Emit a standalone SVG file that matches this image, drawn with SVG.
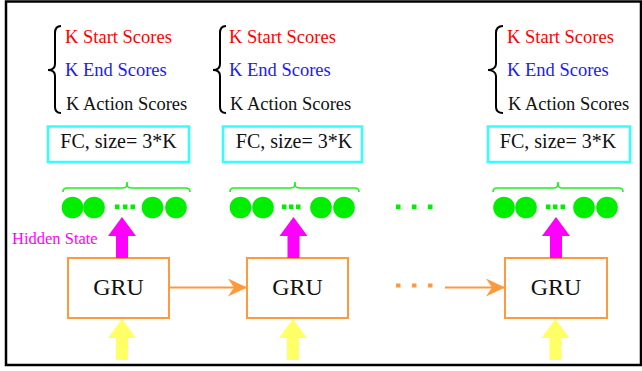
<svg xmlns="http://www.w3.org/2000/svg" width="642" height="371" viewBox="0 0 642 371" font-family="'Liberation Serif', 'Times New Roman', Times, serif">
<style>
text{font-family:'Liberation Serif','Times New Roman',Times,serif;}
.sc{font-size:18.5px;}
.red{fill:#FF0000;}
.blue{fill:#1A1AFF;}
.blk{fill:#111111;}
.fc{fill:#FFFFFF;stroke:#33FFFF;stroke-width:2.5;}
.fct{font-size:20px;fill:#111111;}
.gru{fill:#FFFFFF;stroke:#FF9A3C;stroke-width:2;}
.grut{font-size:24px;fill:#111111;}
.brace{fill:none;stroke:#000000;stroke-width:2;}
.gbrace{fill:none;stroke:#22EE22;stroke-width:1.6;}
.dot{fill:#00EE00;}
.conn{stroke:#FF9A3C;stroke-width:2;fill:none;}
.odot{fill:#FF9A3C;}
</style>
<defs>
<polygon id="uparrow" points="0,0 14,19 6,19 6,41 -6,41 -6,19 -14,19"/>
<marker id="ah" markerUnits="userSpaceOnUse" markerWidth="20" markerHeight="20" refX="19" refY="9" orient="auto">
<path d="M0,0 L19,9 L0,18 L6,9 Z" fill="#FF9A3C"/>
</marker>
</defs>
<rect x="6" y="1.5" width="635" height="363.5" fill="#FFFFFF" stroke="#000000" stroke-width="2.5"/>

<g id="scores1">
<path class="brace" d="M61,26 C57,26 55,28 55,33 L55,64 C55,68 52,70 48,70 C52,70 55,72 55,76 L55,107 C55,111 57,113 61,113"/>
<text class="sc red" x="65" y="43">K Start Scores</text>
<text class="sc blue" x="65" y="76">K End Scores</text>
<text class="sc blk" x="66" y="110">K Action Scores</text>
</g>
<g id="scores2">
<path class="brace" d="M226,26 C222,26 220,28 220,33 L220,64 C220,68 217,70 213,70 C217,70 220,72 220,76 L220,107 C220,111 222,113 226,113"/>
<text class="sc red" x="229" y="43">K Start Scores</text>
<text class="sc blue" x="229" y="76">K End Scores</text>
<text class="sc blk" x="230" y="110">K Action Scores</text>
</g>
<g id="scores3">
<path class="brace" d="M503,26 C499,26 496,28 496,33 L496,64 C496,68 492,70 488,70 C492,70 496,72 496,76 L496,107 C496,111 499,113 503,113"/>
<text class="sc red" x="507" y="43">K Start Scores</text>
<text class="sc blue" x="507" y="76">K End Scores</text>
<text class="sc blk" x="508" y="110">K Action Scores</text>
</g>

<g id="fc1"><rect class="fc" x="48" y="126.5" width="141" height="35.5"/><text class="fct" x="118.5" y="148" text-anchor="middle">FC, size= 3*K</text></g>
<g id="fc2"><rect class="fc" x="223" y="126.5" width="139" height="35.5"/><text class="fct" x="294" y="148" text-anchor="middle">FC, size= 3*K</text></g>
<g id="fc3"><rect class="fc" x="488" y="126.5" width="142" height="35.5"/><text class="fct" x="558" y="148" text-anchor="middle">FC, size= 3*K</text></g>

<g id="hidden1">
<path class="gbrace" d="M63,192 C63,189 64,188 67,188 L123,188 C126,188 127,187 127,182 C127,187 128,188 131,188 L186,188 C189,188 190,189 190,192"/>
<circle class="dot" cx="72.5" cy="207.5" r="10.8"/>
<circle class="dot" cx="94" cy="207.5" r="10.8"/>
<rect class="dot" x="115" y="204.5" width="4.5" height="4.5"/>
<rect class="dot" x="123" y="204.5" width="4.5" height="4.5"/>
<rect class="dot" x="130.5" y="204.5" width="4.5" height="4.5"/>
<circle class="dot" cx="152.5" cy="207.5" r="10.8"/>
<circle class="dot" cx="176" cy="207.5" r="10.8"/>
</g>
<g id="hidden2">
<path class="gbrace" d="M230,192 C230,189 231,188 234,188 L291,188 C294,188 295,187 295,182 C295,187 296,188 299,188 L355,188 C358,188 359,189 359,192"/>
<circle class="dot" cx="240.5" cy="207.5" r="10.8"/>
<circle class="dot" cx="263" cy="207.5" r="10.8"/>
<rect class="dot" x="282" y="204.5" width="4.5" height="4.5"/>
<rect class="dot" x="289" y="204.5" width="4.5" height="4.5"/>
<rect class="dot" x="296" y="204.5" width="4.5" height="4.5"/>
<circle class="dot" cx="321" cy="207.5" r="10.8"/>
<circle class="dot" cx="344" cy="207.5" r="10.8"/>
</g>
<g id="hidden3">
<path class="gbrace" d="M493,192 C493,189 494,188 497,188 L554,188 C557,188 558,187 558,182 C558,187 559,188 562,188 L619,188 C622,188 623,189 623,192"/>
<circle class="dot" cx="504" cy="207.5" r="10.8"/>
<circle class="dot" cx="526" cy="207.5" r="10.8"/>
<rect class="dot" x="546" y="204.5" width="4.5" height="4.5"/>
<rect class="dot" x="553" y="204.5" width="4.5" height="4.5"/>
<rect class="dot" x="560.5" y="204.5" width="4.5" height="4.5"/>
<circle class="dot" cx="584" cy="207.5" r="10.8"/>
<circle class="dot" cx="607" cy="207.5" r="10.8"/>
</g>
<g id="ellipsis-hidden">
<rect class="dot" x="396" y="204.5" width="4.5" height="4.5"/>
<rect class="dot" x="412" y="204.5" width="4.5" height="4.5"/>
<rect class="dot" x="428" y="204.5" width="4.5" height="4.5"/>
</g>

<text id="hidden-label" x="12" y="244" font-size="16.5" fill="#FF00FF">Hidden State</text>

<g id="gru1"><rect class="gru" x="68" y="258" width="101" height="60"/><text class="grut" x="118.5" y="295" text-anchor="middle">GRU</text></g>
<g id="gru2"><rect class="gru" x="247" y="258" width="101" height="60"/><text class="grut" x="297.5" y="295" text-anchor="middle">GRU</text></g>
<g id="gru3"><rect class="gru" x="505" y="258" width="102" height="60"/><text class="grut" x="556" y="295" text-anchor="middle">GRU</text></g>

<g id="connectors">
<line class="conn" x1="169" y1="287.5" x2="247" y2="287.5" marker-end="url(#ah)"/>
<rect class="odot" x="396" y="283.5" width="4.5" height="4"/>
<rect class="odot" x="412" y="283.5" width="4.5" height="4"/>
<rect class="odot" x="428" y="283.5" width="4.5" height="4"/>
<line class="conn" x1="445" y1="287.5" x2="505" y2="287.5" marker-end="url(#ah)"/>
<use href="#uparrow" x="122" y="217" fill="#FF00FF"/>
<use href="#uparrow" x="293.5" y="217" fill="#FF00FF"/>
<use href="#uparrow" x="556" y="217" fill="#FF00FF"/>
<use href="#uparrow" x="122" y="319" fill="#FFFF66"/>
<use href="#uparrow" x="293" y="319" fill="#FFFF66"/>
<use href="#uparrow" x="555.5" y="319" fill="#FFFF66"/>
</g>
</svg>
